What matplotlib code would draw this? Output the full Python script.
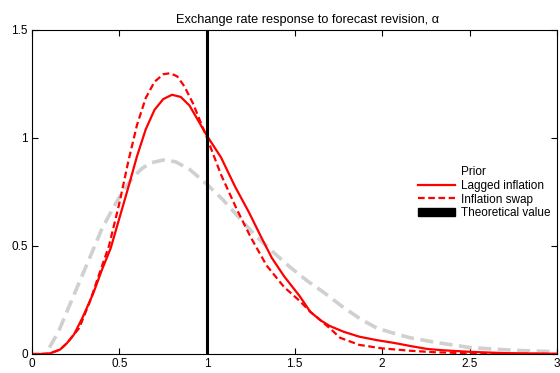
import matplotlib
matplotlib.use("Agg")
import matplotlib.pyplot as plt
from matplotlib.lines import Line2D
from matplotlib.patches import Patch

# PRIOR (grey dashed)
prior_x = [0.10, 0.15, 0.22, 0.28, 0.33, 0.40, 0.46, 0.52, 0.58, 0.63, 0.68, 0.75, 0.82, 0.90,
           1.00, 1.09, 1.19, 1.28, 1.38, 1.47, 1.57, 1.67, 1.78, 1.88, 1.97, 2.07, 2.16, 2.31,
           2.50, 2.75, 3.00]
prior_y = [0.03, 0.10, 0.235, 0.35, 0.445, 0.58, 0.67, 0.755, 0.82, 0.86, 0.885, 0.898, 0.89, 0.855,
           0.785, 0.715, 0.625, 0.545, 0.47, 0.405, 0.34, 0.283, 0.215, 0.16, 0.12, 0.095, 0.075, 0.053,
           0.03, 0.017, 0.01]

# LAGGED INFLATION (solid red)
lagged_x = [0.00, 0.05, 0.10, 0.16, 0.20, 0.24, 0.29, 0.35, 0.40, 0.45, 0.50, 0.55, 0.60, 0.65,
            0.70, 0.75, 0.80, 0.85, 0.90, 0.95, 1.00, 1.08, 1.16, 1.24, 1.31, 1.37, 1.44, 1.53,
            1.59, 1.65, 1.70, 1.78, 1.87, 1.97, 2.07, 2.16, 2.26, 2.35, 2.50, 2.70, 3.00]
lagged_y = [0.0, 0.0, 0.002, 0.02, 0.05, 0.09, 0.17, 0.28, 0.39, 0.49, 0.63, 0.77, 0.915, 1.04,
            1.13, 1.18, 1.20, 1.19, 1.15, 1.08, 1.01, 0.91, 0.775, 0.655, 0.54, 0.445, 0.36, 0.267,
            0.195, 0.155, 0.13, 0.103, 0.08, 0.064, 0.051, 0.037, 0.023, 0.017, 0.01, 0.004, 0.001]

# INFLATION SWAP (dashed red)
swap_x = [0.00, 0.05, 0.10, 0.16, 0.20, 0.27, 0.33, 0.38, 0.44, 0.50, 0.55, 0.60, 0.65, 0.70,
          0.75, 0.79, 0.83, 0.87, 0.92, 0.96, 1.00, 1.08, 1.17, 1.25, 1.34, 1.44, 1.53, 1.59,
          1.65, 1.70, 1.76, 1.87, 2.00, 2.16, 2.30, 2.50, 2.70, 3.00]
swap_y = [0.0, 0.0, 0.002, 0.02, 0.05, 0.12, 0.24, 0.36, 0.50, 0.70, 0.89, 1.06, 1.185, 1.26,
          1.295, 1.30, 1.285, 1.24, 1.16, 1.08, 1.00, 0.83, 0.67, 0.54, 0.41, 0.31, 0.245, 0.195,
          0.155, 0.12, 0.075, 0.042, 0.026, 0.015, 0.008, 0.003, 0.001, 0.0]

theoretical = 1.0

plt.rcParams['font.family'] = ['Liberation Sans', 'DejaVu Sans']
fs = 8.5

fig = plt.figure(figsize=(5.6, 3.73), dpi=100)
ax = fig.add_axes([0.057, 0.051, 0.938, 0.8686])

ax.plot(prior_x, prior_y, color='#d0d0d0', linestyle=(0, (3.6, 1.8)), linewidth=2.6)
ax.plot(lagged_x, lagged_y, color='red', linewidth=1.6)
ax.plot(swap_x, swap_y, color='red', linestyle=(0, (3, 1.6)), linewidth=1.6)
ax.axvline(theoretical, color='black', linewidth=2.2)

ax.set_xlim(0, 3)
ax.set_ylim(0, 1.5)
ax.set_xticks([0, 0.5, 1, 1.5, 2, 2.5, 3])
ax.set_xticklabels(['0', '0.5', '1', '1.5', '2', '2.5', '3'])
ax.set_yticks([0, 0.5, 1, 1.5])
ax.set_yticklabels(['0', '0.5', '1', '1.5'])
ax.tick_params(direction='in', top=True, right=True, length=4, width=0.8,
               labelsize=fs, pad=3)
for s in ax.spines.values():
    s.set_linewidth(0.8)

ax.set_title('Exchange rate response to forecast revision, α', fontsize=9.2,
             x=0.524, pad=5)

handles = [Line2D([], [], color='none'),
           Line2D([], [], color='red', linewidth=1.6),
           Line2D([], [], color='red', linestyle=(0, (3, 1.6)), linewidth=1.6),
           Patch(facecolor='black', edgecolor='black')]
labels = ['Prior', 'Lagged inflation', 'Inflation swap', 'Theoretical value']
ax.legend(handles, labels, loc='upper left', bbox_to_anchor=(0.735, 0.58), frameon=False,
          fontsize=fs, handlelength=3.1, handletextpad=0.5, labelspacing=0.15, borderpad=0,
          borderaxespad=0)

plt.savefig('out.png', dpi=100)
